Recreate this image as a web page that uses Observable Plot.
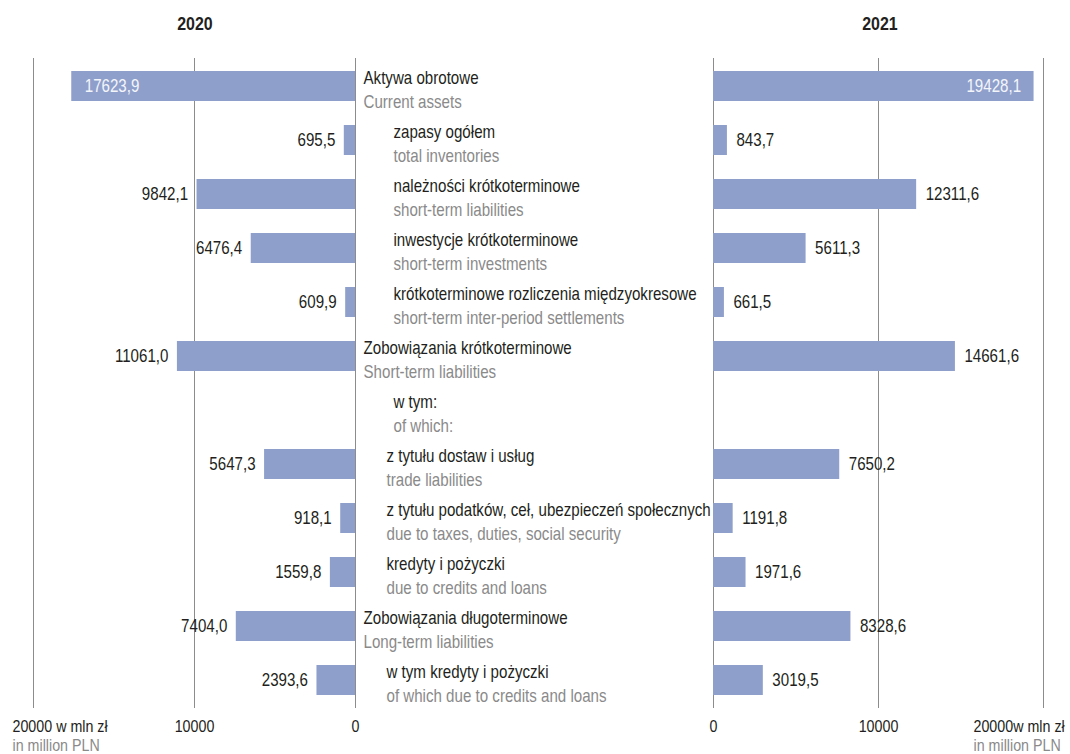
<!DOCTYPE html>
<html>
<head>
<meta charset="utf-8">
<script src="https://cdn.jsdelivr.net/npm/d3@7"></script>
<script src="https://cdn.jsdelivr.net/npm/@observablehq/plot@0.6"></script>
<style>
  body { margin: 0; background: #fff; font-family: "Liberation Sans", Arial, sans-serif; }
  #chart { position: relative; width: 1070px; height: 754px; overflow: hidden; }
  .year { position: absolute; top: 13px; font-weight: bold; font-size: 19px; color: #231f20; transform: translateX(-50%) scaleX(0.84); }
  #panels { position: absolute; top: 40px; left: 0; width: 1070px; height: 714px; }
  #panels svg { position: absolute; top: 0; left: 0; }
</style>
</head>
<body>
<div id="chart">
  <div class="year" style="left:195px">2020</div>
  <div class="year" style="left:880px">2021</div>
  <div id="panels"></div>
</div>
<script>
// Balance-sheet items (Polish / English), hierarchy level, values in million PLN
const labelsPl = [
  "Aktywa obrotowe",
  "zapasy ogółem",
  "należności krótkoterminowe",
  "inwestycje krótkoterminowe",
  "krótkoterminowe rozliczenia międzyokresowe",
  "Zobowiązania krótkoterminowe",
  "w tym:",
  "z tytułu dostaw i usług",
  "z tytułu podatków, ceł, ubezpieczeń społecznych",
  "kredyty i pożyczki",
  "Zobowiązania długoterminowe",
  "w tym kredyty i pożyczki"
];
const labelsEn = [
  "Current assets",
  "total inventories",
  "short-term liabilities",
  "short-term investments",
  "short-term inter-period settlements",
  "Short-term liabilities",
  "of which:",
  "trade liabilities",
  "due to taxes, duties, social security",
  "due to credits and loans",
  "Long-term liabilities",
  "of which due to credits and loans"
];
const levels = [0, 1, 1, 1, 1, 0, 1, 2, 2, 2, 0, 2];
const values2020 = [17623.9, 695.5, 9842.1, 6476.4, 609.9, 11061.0, null, 5647.3, 918.1, 1559.8, 7404.0, 2393.6];
const values2021 = [19428.1, 843.7, 12311.6, 5611.3, 661.5, 14661.6, null, 7650.2, 1191.8, 1971.6, 8328.6, 3019.5];
const xTicks = [0, 10000, 20000];
const unitPl = "w mln zł";
const unitEn = "in million PLN";

const rows = d3.range(labelsPl.length);
const data = rows.map(i => ({
  row: i, pl: labelsPl[i], en: labelsEn[i], level: levels[i],
  v2020: values2020[i], v2021: values2021[i]
}));

const barColor = "#8e9fcb";
const ink = "#231f20";
const grey = "#8a8a8a";
const gridColor = "#8c8c8c";
const condense = 0.84;   // horizontal squeeze giving a condensed typeface look
const fmt = v => v.toFixed(1).replace(".", ",");
const H = 714, MT = 18, MB = 46;
const yScale = {domain: rows, axis: null, paddingInner: 0.45, paddingOuter: 0.225};
const svgStyle = {background: "none", overflow: "visible", fontFamily: "'Liberation Sans', Arial, sans-serif"};
const xMax = xTicks[xTicks.length - 1];
const fitsInside = v => v > 0.85 * xMax;

// Indentation of the category labels by hierarchy level
const indent = {0: 8, 1: 38, 2: 31};

function categoryMarks() {
  const marks = [];
  for (const lvl of [0, 1, 2]) {
    const sub = data.filter(d => d.level === lvl);
    marks.push(Plot.text(sub, {x: () => 0, y: "row", text: "pl", textAnchor: "start", lineAnchor: "bottom",
      dx: indent[lvl], dy: -3, fill: ink, fontSize: 18}));
    marks.push(Plot.text(sub, {x: () => 0, y: "row", text: "en", textAnchor: "start", lineAnchor: "bottom",
      dx: indent[lvl], dy: 21, fill: grey, fontSize: 18}));
  }
  return marks;
}

function tickMarks(unitDx, sep) {
  const inner = xTicks.slice(0, -1);
  return [
    Plot.text(inner, {x: d => d, frameAnchor: "bottom", text: d => String(d), lineAnchor: "bottom", dy: 23, fill: ink, fontSize: 17}),
    Plot.text([xMax], {x: d => d, frameAnchor: "bottom", text: d => `${d}${sep}${unitPl}`, textAnchor: "start", lineAnchor: "bottom", dx: unitDx, dy: 23, fill: ink, fontSize: 17}),
    Plot.text([xMax], {x: d => d, frameAnchor: "bottom", text: () => unitEn, textAnchor: "start", lineAnchor: "bottom", dx: unitDx, dy: 42, fill: grey, fontSize: 17})
  ];
}

// Squeeze every text horizontally around its own anchor point
function condenseText(svg) {
  svg.querySelectorAll("text").forEach(t => {
    const ax = +(t.getAttribute("x") || 0);
    const tr = t.getAttribute("transform") || "";
    t.setAttribute("transform", `${tr} translate(${ax},0) scale(${condense},1) translate(${-ax},0)`);
  });
  return svg;
}

// 2020 panel: bars grow leftwards from zero
const with2020 = data.filter(d => d.v2020 != null);
const left = Plot.plot({
  width: 713, height: H, marginLeft: 33, marginRight: 358, marginTop: MT, marginBottom: MB,
  x: {domain: [xMax, 0], axis: null},
  y: yScale,
  style: svgStyle,
  marks: [
    Plot.ruleX(xTicks, {stroke: gridColor, strokeWidth: 1}),
    Plot.barX(with2020, {x1: 0, x2: "v2020", y: "row", fill: barColor}),
    Plot.text(with2020.filter(d => !fitsInside(d.v2020)), {x: "v2020", y: "row", text: d => fmt(d.v2020), textAnchor: "end", dx: -9, fill: ink, fontSize: 18}),
    Plot.text(with2020.filter(d => fitsInside(d.v2020)), {x: "v2020", y: "row", text: d => fmt(d.v2020), textAnchor: "start", dx: 13, fill: "#f4f5fa", fontSize: 18}),
    ...categoryMarks(),
    ...tickMarks(-21, " ")
  ]
});

// 2021 panel: bars grow rightwards from zero
const with2021 = data.filter(d => d.v2021 != null);
const right = Plot.plot({
  width: 1070, height: H, marginLeft: 713, marginRight: 27, marginTop: MT, marginBottom: MB,
  x: {domain: [0, xMax], axis: null},
  y: yScale,
  style: svgStyle,
  marks: [
    Plot.ruleX(xTicks, {stroke: gridColor, strokeWidth: 1}),
    Plot.barX(with2021, {x1: 0, x2: "v2021", y: "row", fill: barColor}),
    Plot.text(with2021.filter(d => !fitsInside(d.v2021)), {x: "v2021", y: "row", text: d => fmt(d.v2021), textAnchor: "start", dx: 9, fill: ink, fontSize: 18}),
    Plot.text(with2021.filter(d => fitsInside(d.v2021)), {x: "v2021", y: "row", text: d => fmt(d.v2021), textAnchor: "end", dx: -13, fill: "#f4f5fa", fontSize: 18}),
    ...tickMarks(-70, "")
  ]
});

const panels = document.getElementById("panels");
panels.appendChild(condenseText(left));
panels.appendChild(condenseText(right));
</script>
</body>
</html>
